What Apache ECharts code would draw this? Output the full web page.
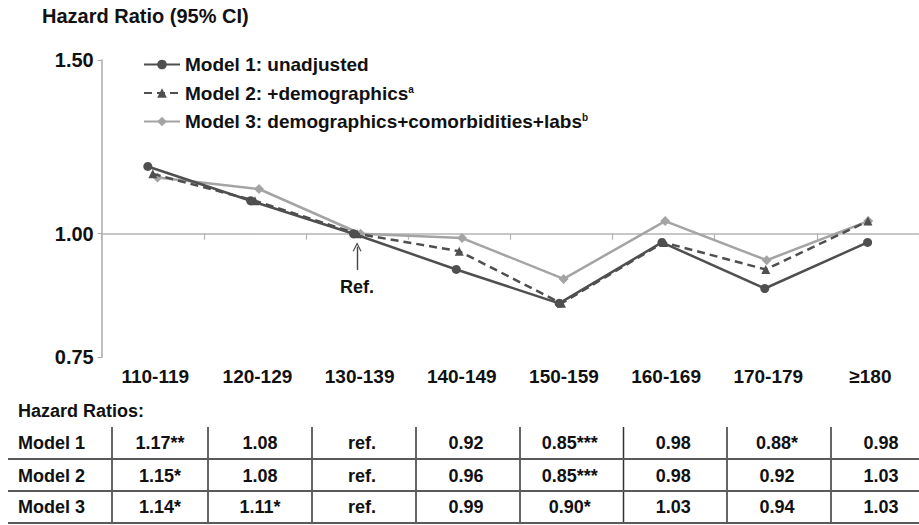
<!DOCTYPE html>
<html>
<head>
<meta charset="utf-8">
<script src="https://cdn.jsdelivr.net/npm/echarts@6/dist/echarts.min.js"></script>
<style>html,body{margin:0;padding:0;background:#fff;}#c{width:919px;height:525px;}</style>
</head>
<body>
<div id="c"></div>
<script>
// ---- data ----
const categories = ['110-119','120-129','130-139','140-149','150-159','160-169','170-179','\u2265180'];
const seriesNames = ['Model 1: unadjusted','Model 2: +demographics','Model 3: demographics+comorbidities+labs'];
const legendSup = ['', 'a', 'b'];
const model1 = [1.17, 1.08, 1.00, 0.92, 0.85, 0.98, 0.88, 0.98];
const model2 = [1.15, 1.08, 1.00, 0.96, 0.85, 0.98, 0.92, 1.03];
const model3 = [1.14, 1.11, 1.00, 0.99, 0.90, 1.03, 0.94, 1.03];
const yTicks = [0.75, 1.00, 1.50];
const yTitle = 'Hazard Ratio (95% CI)';
const refCategory = '130-139';
const refText = 'Ref.';
const refArrow = [0.919, 0.97];   // arrow from / to (HR scale)
const refTextAt = 0.883;
const tableTitle = 'Hazard Ratios:';
const rowLabels = ['Model 1','Model 2','Model 3'];
const model1Cells = ['1.17**','1.08','ref.','0.92','0.85***','0.98','0.88*','0.98'];
const model2Cells = ['1.15*','1.08','ref.','0.96','0.85***','0.98','0.92','1.03'];
const model3Cells = ['1.14*','1.11*','ref.','0.99','0.90*','1.03','0.94','1.03'];

// ---- layout ----
const FONT = '"Liberation Sans", Arial, sans-serif';
const TOP = 60, H = 297, BAND = 103.3, W = BAND * categories.length, BASE_LEFT = 101.7;
const seriesShift = [-5.3, 0, 5];
const yMin = 0.75, yMax = 1.5;
const lineH = H * Math.log(yMax / 1) / Math.log(yMax / yMin);

const grids = seriesShift.map(s => ({left: BASE_LEFT + s, top: TOP, width: W, height: H, containLabel: false}));
grids.push({left: BASE_LEFT, top: TOP, width: W, height: lineH, containLabel: false});

const xAxes = grids.map((g, i) => ({
  type: 'category', gridIndex: i, data: categories, boundaryGap: true,
  axisLine: {show: i === 3, lineStyle: {color: '#b4b4b4', width: 1.5}},
  axisTick: {show: i === 3, length: 6, lineStyle: {color: '#b4b4b4', width: 1.2}},
  axisLabel: i === 1 ? {show: true, margin: 10, color: '#111', fontWeight: 'bold', fontSize: 19, fontFamily: FONT, padding: [0, 0, 0, 5], interval: 0}
                     : {show: false},
  splitLine: {show: false}
}));
const yAxes = grids.map((g, i) => i === 3 ? {
  type: 'value', gridIndex: i, show: false, min: 0, max: 1, splitLine: {show: false}
} : {
  type: 'log', gridIndex: i, min: yMin, max: yMax, show: i === 1,
  axisLine: {show: true, lineStyle: {color: '#a8a8a8', width: 1.5}},
  axisTick: {show: true, length: 4, customValues: yTicks, lineStyle: {color: '#a8a8a8'}},
  axisLabel: {show: true, customValues: yTicks, margin: 8, color: '#111', fontWeight: 'bold', fontSize: 20, fontFamily: FONT,
              formatter: v => Number(v).toFixed(2)},
  splitLine: {show: false}
});

const dark = '#4f4f4f', light = '#a4a4a4';
const series = [
  {name: seriesNames[0], type: 'line', xAxisIndex: 0, yAxisIndex: 0, data: model1,
   symbol: 'circle', symbolSize: 9, color: dark, lineStyle: {color: dark, width: 2.5}, itemStyle: {color: dark}, z: 3},
  {name: seriesNames[1], type: 'line', xAxisIndex: 1, yAxisIndex: 1, data: model2,
   symbol: 'triangle', symbolSize: 9, color: dark, lineStyle: {color: dark, width: 2.5, type: [8, 5]}, itemStyle: {color: dark}, z: 2,
   markLine: {silent: true, symbol: ['none', 'path://M0,10 L5,0 L10,10 L8.6,10 L5,2.6 L1.4,10 Z'], symbolSize: [9, 9],
     lineStyle: {color: '#444', width: 1.4, type: 'solid'}, label: {show: false},
     data: [[{coord: [refCategory, refArrow[0]]}, {coord: [refCategory, refArrow[1]]}]]},
   markPoint: {silent: true, symbol: 'rect', symbolSize: 1, itemStyle: {color: 'rgba(0,0,0,0)'},
     label: {show: true, position: 'inside', formatter: refText, color: '#111', fontWeight: 'bold', fontSize: 18, fontFamily: FONT},
     data: [{coord: [refCategory, refTextAt]}]}},
  {name: seriesNames[2], type: 'line', xAxisIndex: 2, yAxisIndex: 2, data: model3,
   symbol: 'diamond', symbolSize: 10, color: light, lineStyle: {color: light, width: 2.5}, itemStyle: {color: light}, z: 1}
];

// table graphics
const tableRows = [model1Cells, model2Cells, model3Cells];
const rowY = [443, 476, 507];
const vLines = [112, 208, 312, 416, 520, 623.5, 727, 831];
const colRight = 935;
const colCenters = vLines.map((x, i) => ((x + (vLines[i + 1] || colRight)) / 2) - (i > 1 ? 2 : 0));
const txt = (text, x, y, align) => ({type: 'text', silent: true, style: {text, x, y, textAlign: align, textVerticalAlign: 'middle',
  font: 'bold 18px ' + FONT, fill: '#111'}});
const graphics = [];
graphics.push(txt(tableTitle, 18, 411, 'left'));
rowLabels.forEach((lab, r) => {
  graphics.push(txt(lab, 18, rowY[r], 'left'));
  tableRows[r].forEach((c, i) => graphics.push(txt(c, colCenters[i], rowY[r], 'center')));
});
vLines.forEach(x => graphics.push({type: 'line', silent: true, shape: {x1: x, y1: 427, x2: x, y2: 523}, style: {stroke: '#333', lineWidth: 1.5}}));
[459, 491, 523].forEach(y => graphics.push({type: 'line', silent: true, shape: {x1: 8, y1: y, x2: 919, y2: y}, style: {stroke: '#5a5a5a', lineWidth: 2}}));

const chart = echarts.init(document.getElementById('c'), null, {renderer: 'svg'});
chart.setOption({
  animation: false,
  backgroundColor: '#fff',
  title: {text: yTitle, left: 37, top: 1, textStyle: {fontFamily: FONT, fontWeight: 'bold', fontSize: 20, color: '#111'}},
  legend: {
    data: seriesNames, orient: 'vertical', left: 138, top: 50, itemWidth: 36, itemHeight: 12, itemGap: 9.5,
    formatter: name => { const i = seriesNames.indexOf(name); return '{t|' + name + '}' + (legendSup[i] ? '{s|' + legendSup[i] + '}' : ''); },
    textStyle: {fontFamily: FONT, fontWeight: 'bold', fontSize: 19, color: '#111',
      rich: {t: {fontFamily: FONT, fontWeight: 'bold', fontSize: 19, color: '#111', lineHeight: 18},
             s: {fontFamily: FONT, fontWeight: 'bold', fontSize: 10, color: '#111', verticalAlign: 'top', lineHeight: 18}}}
  },
  grid: grids, xAxis: xAxes, yAxis: yAxes, series: series, graphic: graphics
});
</script>
</body>
</html>
